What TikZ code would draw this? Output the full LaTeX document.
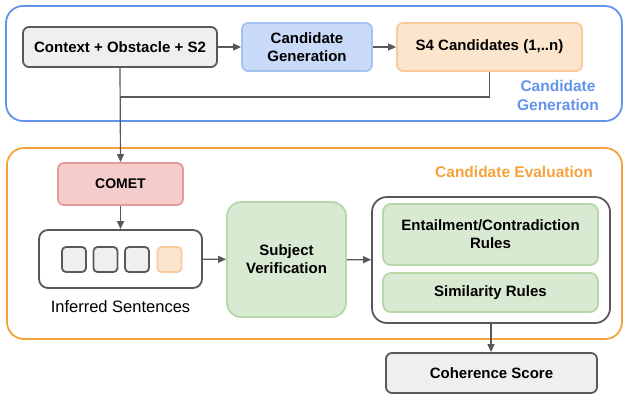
\documentclass[tikz,border=0pt]{standalone}
\usepackage{fontspec}
\setmainfont{Liberation Sans}
\usetikzlibrary{arrows.meta}
\definecolor{dgray}{HTML}{595959}
\definecolor{lgray}{HTML}{EFEFEF}
\definecolor{bfill}{HTML}{C9DAF8}
\definecolor{bdraw}{HTML}{A4C2F4}
\definecolor{ofill}{HTML}{FCE5CD}
\definecolor{odraw}{HTML}{F9CB9C}
\definecolor{rfill}{HTML}{F4CCCC}
\definecolor{rdraw}{HTML}{E59A9A}
\definecolor{gfill}{HTML}{D9EAD3}
\definecolor{gdraw}{HTML}{B6D7A8}
\definecolor{outblue}{HTML}{6294EA}
\definecolor{outorange}{HTML}{F5A23C}
\tikzset{
  box/.style={rounded corners=6pt, line width=1.8pt, align=center, inner sep=0pt,
    font=\fontsize{15}{18}\selectfont\bfseries},
  graybox/.style={box, draw=dgray, fill=lgray},
  bluebox/.style={box, draw=bdraw, fill=bfill},
  orangebox/.style={box, draw=odraw, fill=ofill},
  redbox/.style={box, draw=rdraw, fill=rfill},
  greenbox/.style={box, draw=gdraw, fill=gfill},
  sq/.style={rounded corners=4pt, line width=1.8pt, minimum width=24pt, minimum height=25pt, inner sep=0pt},
  conn/.style={draw=dgray, line width=1.2pt},
  arr/.style={conn, -{Triangle[length=8pt,width=7pt]}},
  outer/.style={rounded corners=17pt, line width=1.8pt},
  grplabel/.style={font=\fontsize{15.5}{19}\selectfont\bfseries, align=center}
}
\begin{document}
\begin{tikzpicture}[x=1pt,y=-1pt]
\useasboundingbox (0,0) rectangle (624,397);
% outer groups
\draw[outer, draw=outblue] (6,6) rectangle (622,121);
\draw[outer, draw=outorange] (7,148) rectangle (622,339);
\node[grplabel, text=outblue] (lblgen) at (558,95) {Candidate\\Generation};
\node[grplabel, text=outorange] (lbleval) at (514,172) {Candidate Evaluation};
% top row
\node[graybox, minimum width=194pt, minimum height=40pt] (ctx) at (120,47) {Context + Obstacle + S2};
\node[bluebox, minimum width=130pt, minimum height=48pt] (cg) at (307,47) {Candidate\\Generation};
\node[orangebox, minimum width=185pt, minimum height=48pt] (s4) at (489.5,47) {S4 Candidates (1,..n)};
% evaluation
\node[redbox, minimum width=125pt, minimum height=42pt, font=\fontsize{14}{17}\selectfont\bfseries] (comet) at (120.5,184) {COMET};
\node[box, draw=dgray, fill=white, rounded corners=9pt, minimum width=163pt, minimum height=58pt] (inf) at (120.5,259) {};
\node[sq, draw=dgray, fill=lgray] (q1) at (74,259.5) {};
\node[sq, draw=dgray, fill=lgray] (q2) at (105.5,259.5) {};
\node[sq, draw=dgray, fill=lgray] (q3) at (137,259.5) {};
\node[sq, draw=odraw, fill=ofill] (q4) at (169.5,259.5) {};
\node[font=\fontsize{16.5}{19}\selectfont] (inflbl) at (120.5,307) {Inferred Sentences};
\node[greenbox, rounded corners=14pt, minimum width=119pt, minimum height=115pt] (sv) at (286.5,259.5) {Subject\\Verification};
\node[box, draw=dgray, fill=white, rounded corners=15pt, minimum width=238pt, minimum height=126pt] (rules) at (491,260) {};
\node[greenbox, rounded corners=8pt, minimum width=215pt, minimum height=61pt] (ent) at (490.5,234.5) {Entailment/Contradiction\\Rules};
\node[greenbox, rounded corners=8pt, minimum width=215pt, minimum height=39pt] (sim) at (490.5,292.5) {Similarity Rules};
\node[graybox, minimum width=211pt, minimum height=40pt] (coh) at (491.5,373) {Coherence Score};
% connectors
\coordinate (j) at (120,97);
\draw[arr] (ctx) -- (cg);
\draw[arr] (cg) -- (s4);
\draw[conn] (s4.south) |- (j);
\draw[arr] (ctx.south) -- (comet.north);
\draw[arr] (comet) -- (inf);
\draw[arr] (inf) -- (sv);
\draw[arr] (sv) -- (rules);
\draw[arr] (rules.south) -- (rules.south |- coh.north);
\end{tikzpicture}
\end{document}
